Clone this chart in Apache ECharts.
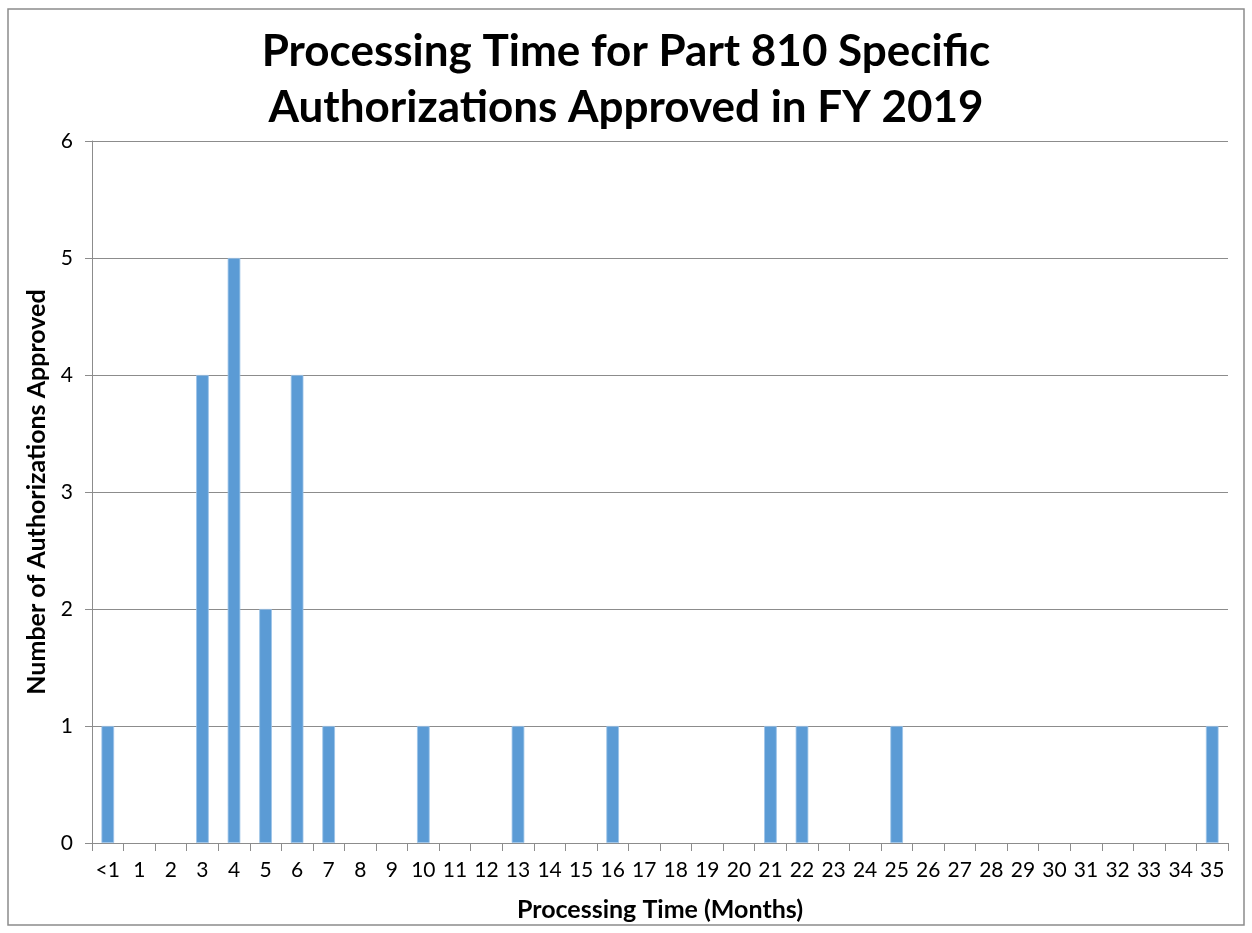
<!DOCTYPE html>
<html><head><meta charset="utf-8">
<script src="https://cdn.jsdelivr.net/npm/echarts@6/dist/echarts.min.js"></script>
<style>html,body{margin:0;padding:0;background:#fff}#c{width:1252px;height:933px}</style>
</head><body><div id="c"></div>
<script>
const categories = ['<1','1','2','3','4','5','6','7','8','9','10','11','12','13','14','15','16','17','18','19','20','21','22','23','24','25','26','27','28','29','30','31','32','33','34','35'];
const approved = [1,0,0,4,5,2,4,1,0,0,1,0,0,1,0,0,1,0,0,0,0,1,1,0,0,1,0,0,0,0,0,0,0,0,0,1];
const yTicks = [0,1,2,3,4,5,6];
const chart = echarts.init(document.getElementById('c'));
const font = 'Lato, "Open Sans", sans-serif';
chart.setOption({
  animation: false,
  backgroundColor: '#fff',
  graphic: [{type:'rect', shape:{x:8,y:9,width:1236,height:916}, style:{fill:'none', stroke:'#8c8c8c', lineWidth:1.5}, silent:true}],
  title: {
    text: 'Processing Time for Part 810 Specific\nAuthorizations Approved in FY 2019',
    left: 'center', top: 19,
    textStyle: {fontFamily: font, fontWeight: 'bold', fontSize: 44, lineHeight: 56, color: '#000'}
  },
  grid: {left: 92, right: 24, top: 141, bottom: 90},
  xAxis: {
    type: 'category', data: categories,
    name: 'Processing Time (Months)', nameLocation: 'middle', nameGap: 54,
    nameTextStyle: {fontFamily: font, fontWeight: 'bold', fontSize: 25, color: '#000'},
    axisLine: {lineStyle: {color: '#8c8c8c', width: 1}},
    axisTick: {show: true, alignWithLabel: false, length: 8, lineStyle: {color: '#8c8c8c'}},
    axisLabel: {fontFamily: font, fontSize: 21, color: '#000', margin: 17, interval: 0}
  },
  yAxis: {
    type: 'value', min: 0, max: 6, interval: 1,
    name: 'Number of Authorizations Approved', nameLocation: 'middle', nameGap: 40,
    nameTextStyle: {fontFamily: font, fontWeight: 'bold', fontSize: 25, color: '#000'},
    axisLine: {show: true, lineStyle: {color: '#8c8c8c', width: 1}},
    axisTick: {show: true, length: 7, lineStyle: {color: '#8c8c8c'}},
    axisLabel: {fontFamily: font, fontSize: 21, color: '#000', margin: 19,
      formatter: v => yTicks.includes(v) ? String(v) : ''},
    splitLine: {show: true, lineStyle: {color: '#8c8c8c', width: 1}}
  },
  series: [{
    type: 'bar', data: approved.map(v => v === 0 ? {value: 0, itemStyle: {borderWidth: 0}} : v), barWidth: '40%',
    itemStyle: {color: '#5B9BD5', borderColor: '#9CC3E8', borderWidth: 0.8}
  }]
});
</script></body></html>
